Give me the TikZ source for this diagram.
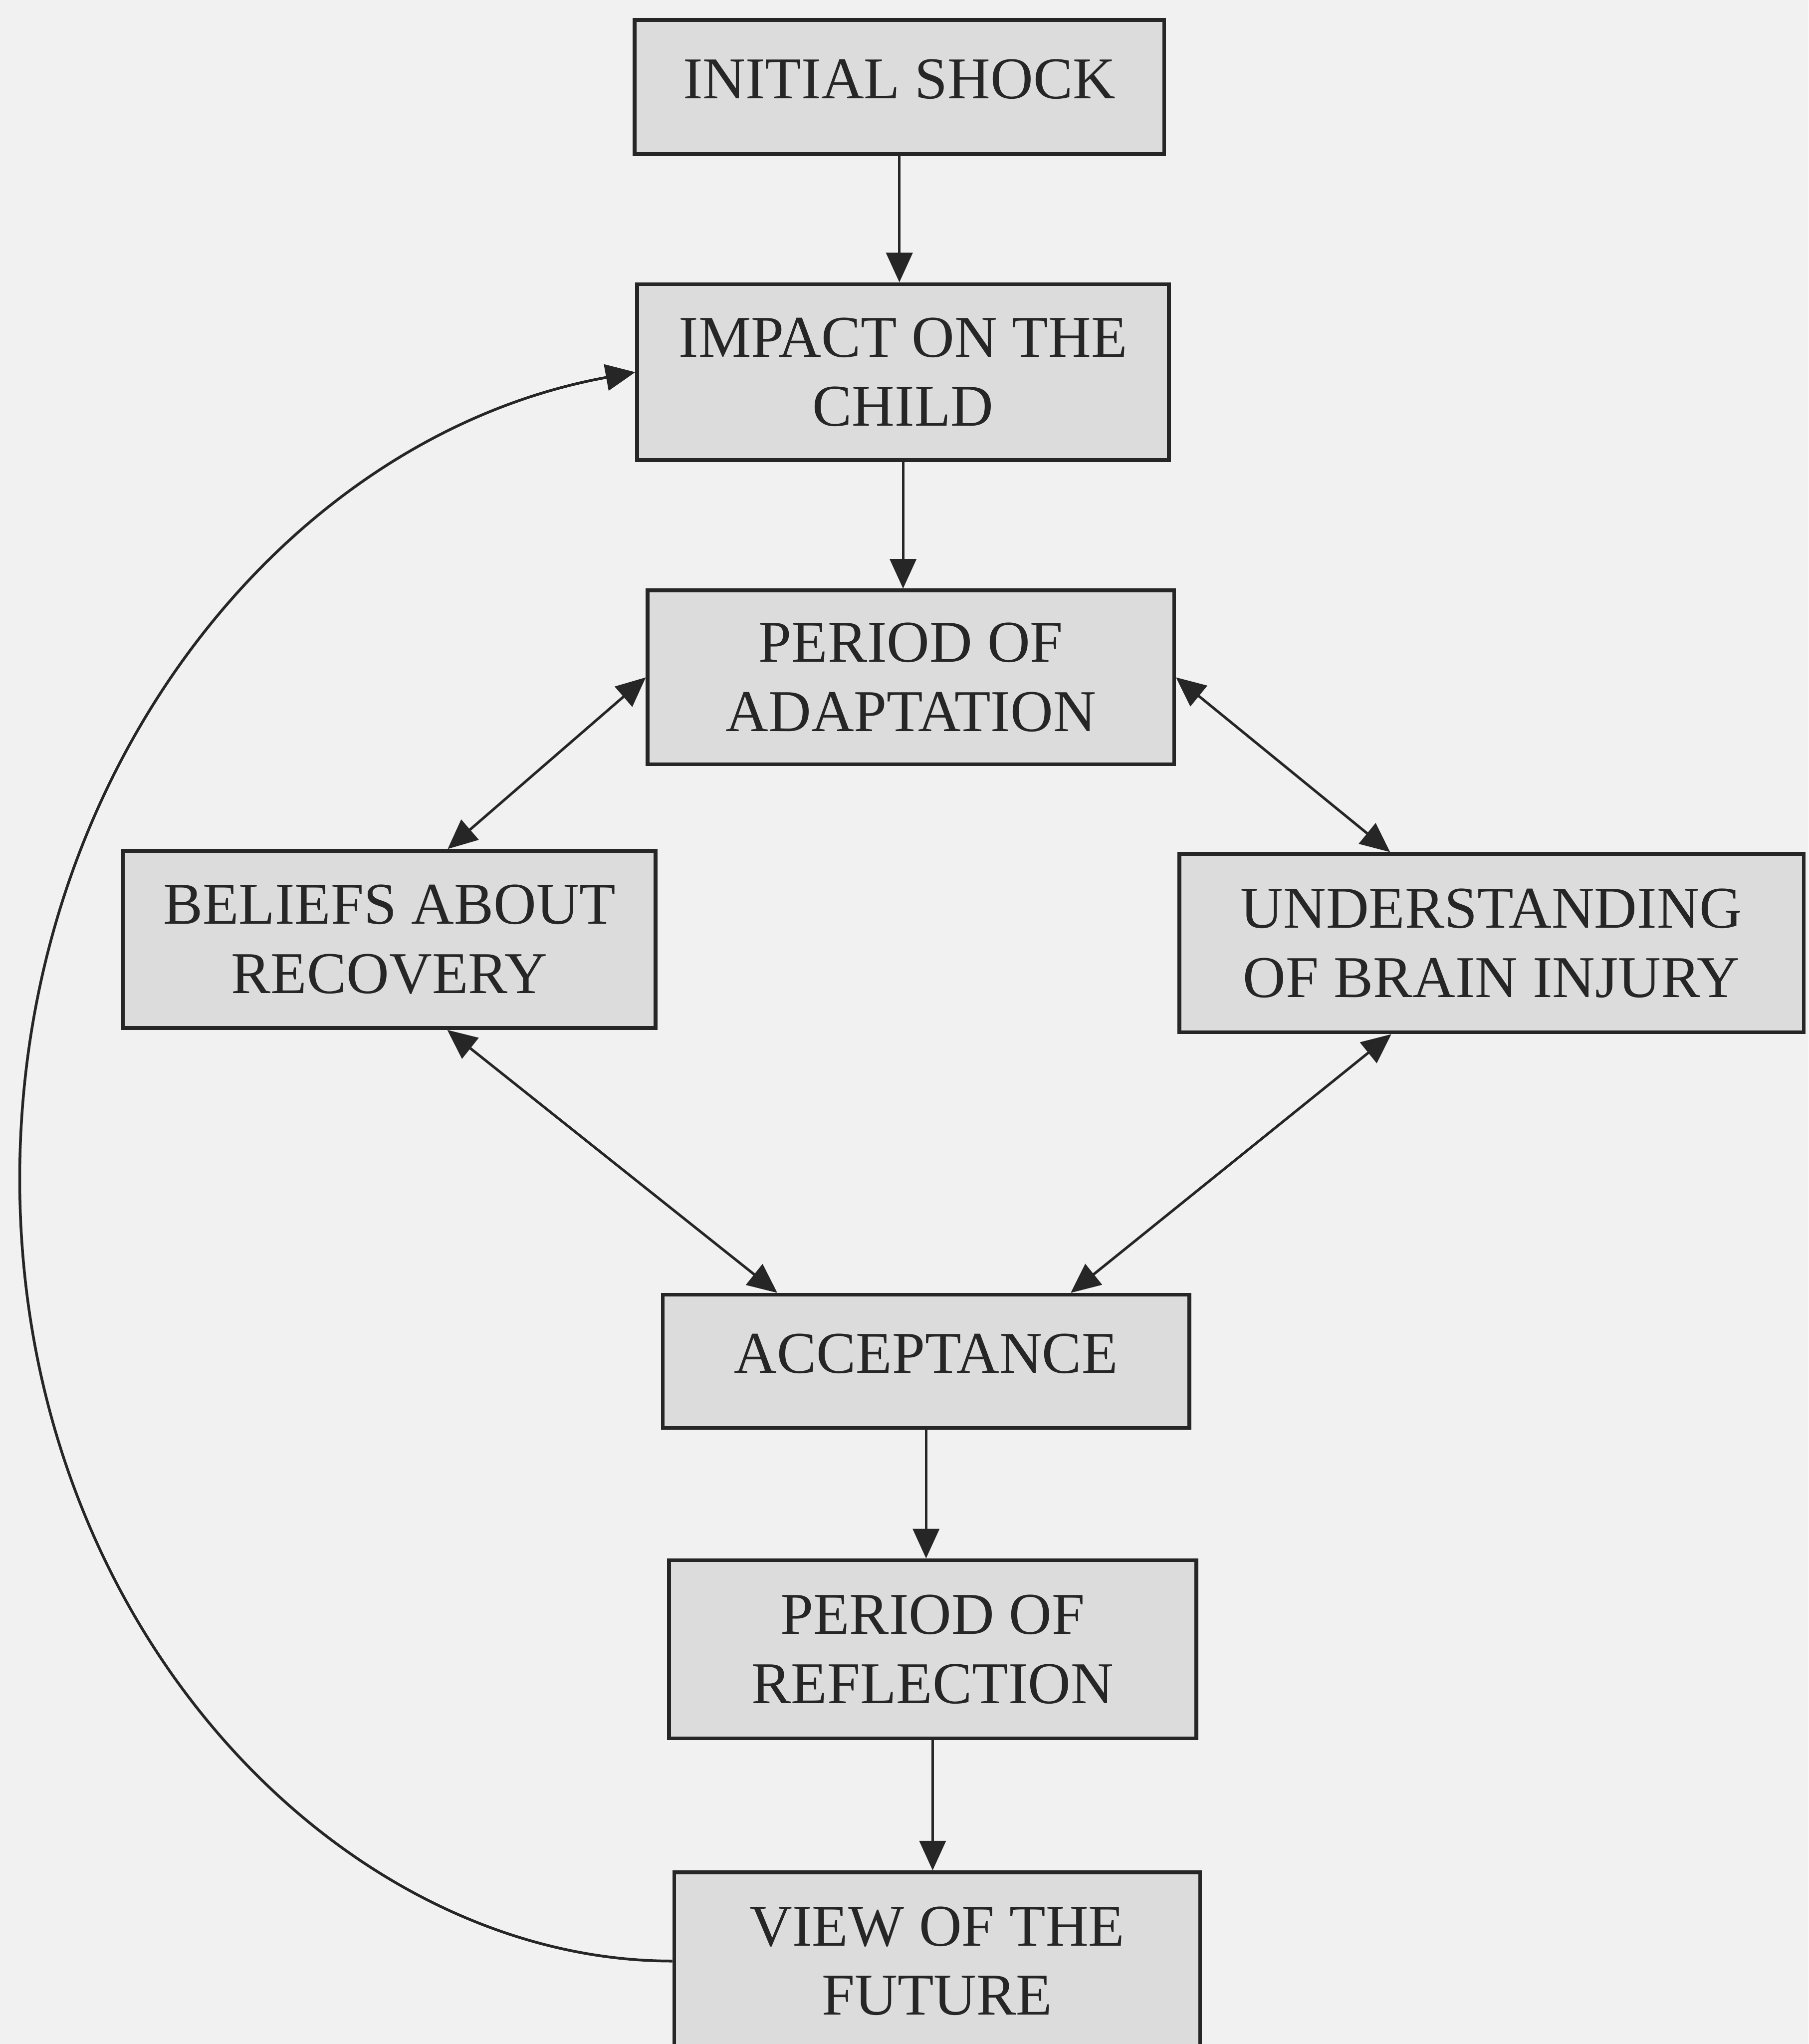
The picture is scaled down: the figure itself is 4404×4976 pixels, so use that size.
\documentclass[tikz,border=0pt]{standalone}
\usepackage{fontspec}
\setmainfont{Liberation Serif}
\usetikzlibrary{arrows.meta,calc}
\definecolor{bg}{HTML}{F1F1F1}
\definecolor{boxfill}{HTML}{DCDCDC}
\definecolor{ink}{HTML}{262626}
\tikzset{
  stage/.style={draw=ink, line width=2.6pt, fill=boxfill, align=center, inner sep=0pt,
    font=\fontsize{41}{48}\selectfont, text=ink},
  oneline/.style={text height=1.0cm, text depth=0.44cm},
  flow/.style={draw=ink, line width=1.8pt, -{Triangle[length=7.2mm,width=6.4mm]}},
  both/.style={draw=ink, line width=1.8pt, {Triangle[length=7.2mm,width=6.4mm]}-{Triangle[length=7.2mm,width=6.4mm]}},
}
\begin{document}
\begin{tikzpicture}[x=0.01cm,y=-0.01cm]
\useasboundingbox (0,0) rectangle (4404,4976);
\clip (0,0) rectangle (4404,4976);
\fill[bg] (0,0) rectangle (4404,4976);

\node[stage, oneline, minimum width=12.89cm, minimum height=3.27cm] (shock) at (2190,212) {INITIAL SHOCK};
\node[stage, minimum width=12.94cm, minimum height=4.28cm] (impact) at (2199,906) {IMPACT ON THE\\CHILD};
\node[stage, minimum width=12.81cm, minimum height=4.23cm] (adapt) at (2218,1649) {PERIOD OF\\ADAPTATION};
\node[stage, minimum width=12.96cm, minimum height=4.31cm] (beliefs) at (948,2287) {BELIEFS ABOUT\\RECOVERY};
\node[stage, minimum width=15.20cm, minimum height=4.34cm] (underst) at (3632,2296) {UNDERSTANDING\\OF BRAIN INJURY};
\node[stage, oneline, minimum width=12.81cm, minimum height=3.24cm] (accept) at (2255,3314) {ACCEPTANCE};
\node[stage, minimum width=12.83cm, minimum height=4.33cm] (reflect) at (2271,4015) {PERIOD OF\\REFLECTION};
\node[stage, minimum width=12.80cm, minimum height=4.32cm] (future) at (2282,4774) {VIEW OF THE\\FUTURE};

\draw[flow] (shock.south) -- (shock.south |- impact.north);
\draw[flow] (impact.south) -- (impact.south |- adapt.north);
\draw[flow] (accept.south) -- (accept.south |- reflect.north);
\draw[flow] (reflect.south) -- (reflect.south |- future.north);

\draw[both] (adapt.west) -- ([xshift=1.42cm]beliefs.north);
\draw[both] (adapt.east) -- ([xshift=-2.47cm]underst.north);
\draw[both] ([xshift=1.41cm]beliefs.south) -- ([xshift=-3.62cm]accept.north);
\draw[both] ([xshift=-2.44cm]underst.south) -- ([xshift=3.52cm]accept.north);

\coordinate (loopleft) at (48,2870);
\draw[flow, line width=1.9pt] (future.west) .. controls (840,4774) and (48,3970) .. (loopleft)
  .. controls (48,1870) and (700,1060) .. (impact.west);
\end{tikzpicture}
\end{document}
